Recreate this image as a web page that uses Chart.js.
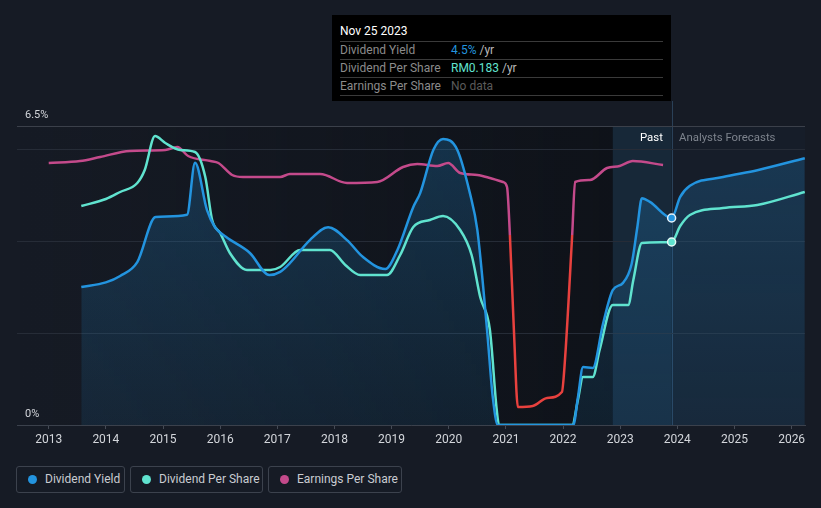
<!DOCTYPE html>
<html>
<head>
<meta charset="utf-8">
<script src="https://cdn.jsdelivr.net/npm/chart.js@4.4.0/dist/chart.umd.min.js"></script>
<style>
  body { margin: 0; background: #161b25; font-family: Roboto, "Open Sans", sans-serif; }
  #wrap { position: relative; width: 821px; height: 508px; overflow: hidden; }
  canvas { position: absolute; left: 0; top: 0; }
  #tip { position: absolute; left: 332px; top: 15px; width: 331px; height: 86px; background: #000; padding-left: 8px; font-size: 12px; }
  #tip .title { height: 26px; line-height: 32px; color: #fff; }
  #tip .row { width: 323px; height: 17px; line-height: 17px; border-top: 1px solid #3a3a3a; color: #8b8b8b; }
  #tip .row.last { border-bottom: 1px solid #3a3a3a; }
  #tip .lab { display: inline-block; width: 111px; }
  #tip .yr { color: #b9b9b9; }
  .zone { position: absolute; top: 130px; font-size: 11.4px; }
  #legend { position: absolute; top: 466px; left: 16px; display: flex; }
  .item { box-sizing: border-box; height: 27px; border: 1px solid #3c424d; border-radius: 3px; margin-right: 5px; padding-left: 28px; position: relative; line-height: 25px; font-size: 12px; color: #c9ccd1; }
  .item i { position: absolute; left: 11px; top: 8px; width: 9px; height: 9px; border-radius: 50%; }
</style>
</head>
<body>
<div id="wrap">
  <canvas id="chart" width="821" height="460"></canvas>
  <div id="tip">
    <div class="title">Nov 25 2023</div>
    <div class="row"><span class="lab">Dividend Yield</span><span style="color:#2394df">4.5%</span><span class="yr"> /yr</span></div>
    <div class="row"><span class="lab">Dividend Per Share</span><span style="color:#60e3cf">RM0.183</span><span class="yr"> /yr</span></div>
    <div class="row last"><span class="lab">Earnings Per Share</span><span style="color:#5a5a5a">No data</span></div>
  </div>
  <div class="zone" style="left:640px;color:#ffffff">Past</div>
  <div class="zone" style="left:679px;color:#7d838d">Analysts Forecasts</div>
  <div id="legend">
    <div class="item" style="width:109px"><i style="background:#2394df"></i>Dividend Yield</div>
    <div class="item" style="width:133px"><i style="background:#60e3cf"></i>Dividend Per Share</div>
    <div class="item" style="width:134px"><i style="background:#c44a8b"></i>Earnings Per Share</div>
  </div>
</div>
<script>
// Rendimiento del dividendo (%)
var dyYears = [2013.57, 2014.0, 2014.25, 2014.55, 2014.87, 2015.42, 2015.56, 2015.77, 2015.91, 2016.1, 2016.52, 2016.86, 2017.05, 2017.22, 2017.57, 2017.89, 2018.22, 2018.5, 2018.89, 2019.1, 2019.38, 2019.5, 2019.73, 2019.9, 2020.15, 2020.37, 2020.5, 2020.67, 2020.77, 2020.86, 2022.18, 2022.26, 2022.35, 2022.52, 2022.7, 2022.87, 2023.05, 2023.2, 2023.3, 2023.38, 2023.52, 2023.9, 2024.05, 2024.22, 2024.8, 2025.4, 2026.23];
var dyValues = [3.0, 3.1, 3.24, 3.54, 4.52, 4.57, 5.7, 4.67, 4.3, 4.09, 3.74, 3.26, 3.33, 3.52, 4.02, 4.3, 4.02, 3.65, 3.39, 3.8, 4.74, 5.04, 5.98, 6.22, 5.98, 5.04, 4.24, 2.07, 0.61, 0, 0, 0.6, 1.26, 1.24, 2.2, 2.93, 3.09, 3.5, 4.3, 4.93, 4.85, 4.5, 4.96, 5.2, 5.39, 5.54, 5.8];

// Dividendo por accion (RM)
var dpsYears = [2013.57, 2014.0, 2014.25, 2014.55, 2014.68, 2014.86, 2015.04, 2015.3, 2015.56, 2015.74, 2015.86, 2016.0, 2016.17, 2016.47, 2016.88, 2017.05, 2017.4, 2017.92, 2018.19, 2018.45, 2018.92, 2019.15, 2019.38, 2019.67, 2019.9, 2020.2, 2020.4, 2020.55, 2020.72, 2020.84, 2020.88, 2022.16, 2022.26, 2022.35, 2022.52, 2022.64, 2022.87, 2023.14, 2023.23, 2023.38, 2023.9, 2024.05, 2024.22, 2024.8, 2025.4, 2026.23];
var dpsValues = [0.219, 0.226, 0.233, 0.242, 0.255, 0.289, 0.282, 0.275, 0.273, 0.248, 0.205, 0.192, 0.172, 0.155, 0.155, 0.158, 0.175, 0.175, 0.16, 0.15, 0.15, 0.17, 0.198, 0.205, 0.209, 0.195, 0.17, 0.128, 0.095, 0.015, 0, 0, 0.025, 0.048, 0.048, 0.075, 0.12, 0.12, 0.145, 0.182, 0.183, 0.199, 0.21, 0.217, 0.22, 0.233];

// Beneficio por accion (RM)
var epsYears = [2013.0, 2013.55, 2013.9, 2014.42, 2015.04, 2015.25, 2015.44, 2015.83, 2015.97, 2016.21, 2016.4, 2017.05, 2017.22, 2017.75, 2018.22, 2018.75, 2019.2, 2019.45, 2019.8, 2019.99, 2020.2, 2020.5, 2020.72, 2020.95, 2021.02, 2021.07, 2021.14, 2021.21, 2021.47, 2021.72, 2021.98, 2022.03, 2022.16, 2022.21, 2022.47, 2022.77, 2022.99, 2023.22, 2023.75];
var epsValues = [0.072, 0.074, 0.078, 0.084, 0.085, 0.088, 0.079, 0.074, 0.072, 0.060, 0.058, 0.058, 0.061, 0.061, 0.052, 0.053, 0.068, 0.071, 0.069, 0.072, 0.062, 0.060, 0.057, 0.053, 0.048, 0.0, -0.095, -0.172, -0.171, -0.163, -0.157, -0.128, 0.0, 0.053, 0.055, 0.067, 0.069, 0.074, 0.070];

var xTicks = [2013, 2014, 2015, 2016, 2017, 2018, 2019, 2020, 2021, 2022, 2023, 2024, 2025, 2026];
var yTicks = [0, 2, 4, 6, 6.5];
var pastStart = 2022.87;
var hoverYear = 2023.9;

var azul = '#2394df', turquesa = '#60e3cf', rosa = '#c44a8b', rojo = '#e8413e';

function puntos(xs, ys) {
    return xs.map(function(x, i) { return { x: x, y: ys[i] }; });
}

// Marcar solo el punto del tooltip
function radioHover(ctx) {
    return ctx.raw && ctx.raw.x === hoverYear ? 4 : 0;
}

// Fondo: zona pasada oscurecida, banda "Past" y zona de prevision
var fondo = {
    id: 'fondo',
    beforeDraw: function(chart) {
        var c = chart.ctx, a = chart.chartArea, x = chart.scales.x;
        var xp = x.getPixelForValue(pastStart), xh = x.getPixelForValue(hoverYear);
        c.save();
        var g = c.createLinearGradient(a.left, 0, xp, 0);
        g.addColorStop(0, 'rgba(5,7,10,0)');
        g.addColorStop(1, 'rgba(5,7,10,0.42)');
        c.fillStyle = g;
        c.fillRect(a.left, a.top, xp - a.left, a.bottom - a.top);
        c.fillStyle = 'rgba(35,148,223,0.11)';
        c.fillRect(xp, a.top, xh - xp, a.bottom - a.top);
        c.fillStyle = 'rgba(35,148,223,0.025)';
        c.fillRect(xh, a.top, a.right - xh, a.bottom - a.top);
        // linea vertical del tooltip
        c.strokeStyle = 'rgba(60,95,130,0.55)';
        c.lineWidth = 1;
        c.beginPath();
        c.moveTo(Math.round(xh) + 0.5, 101);
        c.lineTo(Math.round(xh) + 0.5, a.bottom);
        c.stroke();
        c.restore();
    }
};

var ctx = document.getElementById('chart').getContext('2d');
var myChart = new Chart(ctx, {
    type: 'line',
    data: {
        datasets: [{
            label: 'Dividend Yield',
            data: puntos(dyYears, dyValues),
            yAxisID: 'y',
            borderColor: azul,
            pointBackgroundColor: azul,
            pointBorderColor: '#e6f2fb',
            pointBorderWidth: 1.5,
            pointRadius: radioHover,
            fill: 'origin',
            backgroundColor: function(c) {
                var a = c.chart.chartArea;
                if (!a) return 'rgba(35,148,223,0.18)';
                var g = c.chart.ctx.createLinearGradient(0, a.top, 0, a.bottom);
                g.addColorStop(0, 'rgba(35,148,223,0.24)');
                g.addColorStop(1, 'rgba(35,148,223,0.10)');
                return g;
            }
        }, {
            label: 'Dividend Per Share',
            data: puntos(dpsYears, dpsValues),
            yAxisID: 'yDps',
            borderColor: turquesa,
            pointBackgroundColor: turquesa,
            pointBorderColor: '#e6fbf7',
            pointBorderWidth: 1.5,
            pointRadius: radioHover,
            fill: false
        }, {
            label: 'Earnings Per Share',
            data: puntos(epsYears, epsValues),
            yAxisID: 'yEps',
            borderColor: rosa,
            pointRadius: 0,
            fill: false,
            segment: {
                borderColor: function(s) {
                    return (s.p0.parsed.y < 0 || s.p1.parsed.y < 0) ? rojo : undefined;
                }
            }
        }]
    },
    options: {
        responsive: false,
        animation: false,
        layout: { padding: { left: 17, right: 16, top: 126, bottom: 0 } },
        elements: {
            line: { borderWidth: 2.5, cubicInterpolationMode: 'monotone' },
            point: { hoverRadius: 0 }
        },
        plugins: {
            legend: { display: false },
            tooltip: { enabled: false },
            filler: { drawTime: 'beforeDatasetsDraw' }
        },
        events: [],
        scales: {
            x: {
                type: 'linear',
                min: 2012.445,
                max: 2026.234,
                afterBuildTicks: function(s) { s.ticks = xTicks.map(function(v) { return { value: v }; }); },
                afterFit: function(s) { s.height = 35; },
                grid: { drawOnChartArea: false, color: '#454b56', tickLength: 4 },
                border: { color: '#3b414c' },
                ticks: {
                    color: '#d3d6db',
                    padding: 4,
                    font: { family: 'Roboto', size: 12 },
                    maxRotation: 0,
                    callback: function(v) { return String(v); }
                }
            },
            y: {
                min: 0,
                max: 6.5,
                afterBuildTicks: function(s) { s.ticks = yTicks.map(function(v) { return { value: v }; }); },
                afterFit: function(s) { s.width = 0; },
                grid: {
                    drawTicks: false,
                    color: function(c) { return c.tick && c.tick.value === 6.5 ? '#3b404a' : '#262c37'; }
                },
                border: { display: false },
                ticks: {
                    mirror: true,
                    padding: 8,
                    labelOffset: -11,
                    color: '#d3d6db',
                    font: { family: 'Roboto', size: 11 },
                    callback: function(v) { return (v === 0 || v === 6.5) ? v + '%' : ''; }
                }
            },
            yDps: { display: false, min: 0, max: 0.299 },
            yEps: { display: false, min: -0.19, max: 0.109 }
        }
    },
    plugins: [fondo]
});
</script>
</body>
</html>
